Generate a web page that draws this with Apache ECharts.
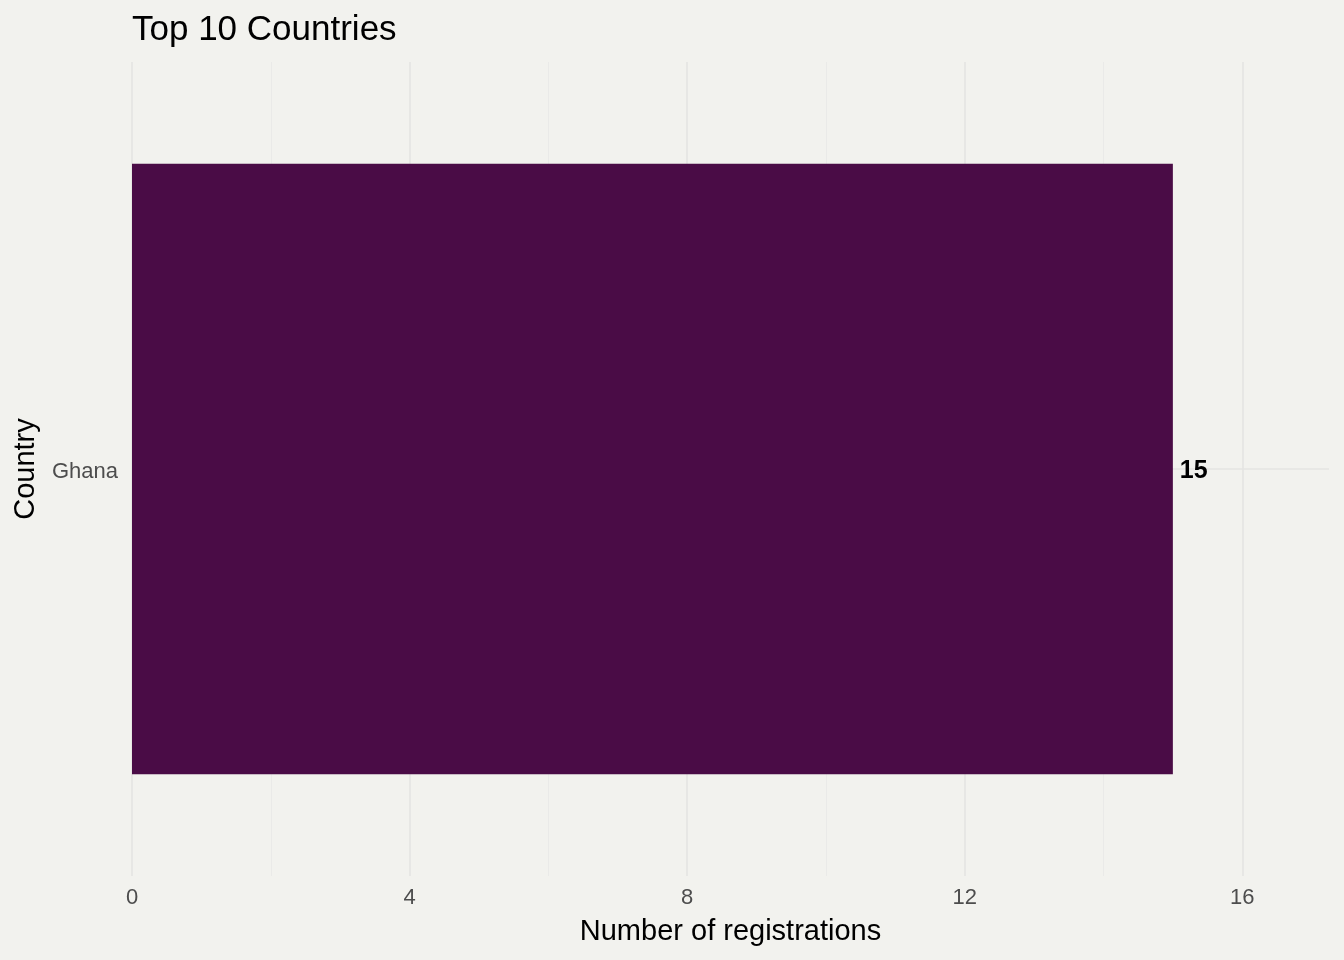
<!DOCTYPE html>
<html><head><meta charset="utf-8">
<script src="https://cdn.jsdelivr.net/npm/echarts@6/dist/echarts.min.js"></script>
<style>html,body{margin:0;padding:0;background:#F2F2EE;}#c{width:1344px;height:960px;}</style>
</head><body><div id="c"></div>
<script>
const categories = ['Ghana'];
const registrations = [15];
const xTicks = [0, 4, 8, 12, 16];

const chart = echarts.init(document.getElementById('c'));
const font = 'Liberation Sans, Arial, sans-serif';
chart.setOption({
  backgroundColor: '#F2F2EE',
  animation: false,
  title: {
    text: 'Top 10 Countries', left: 127, top: 8,
    textStyle: { fontFamily: font, fontSize: 35, fontWeight: 'normal', color: '#000' }
  },
  grid: { left: 132, right: 15, top: 62, bottom: 84 },
  xAxis: [{
    type: 'value', min: 0, max: 17.25, interval: 4,
    name: 'Number of registrations', nameLocation: 'middle', nameGap: 41,
    nameTextStyle: { fontFamily: font, fontSize: 29, color: '#000' },
    axisLine: { show: false }, axisTick: { show: false },
    axisLabel: { fontFamily: font, fontSize: 22, color: '#4D4D4D', margin: 11, showMaxLabel: false,
      formatter: v => xTicks.includes(v) ? String(v) : '' },
    splitLine: { show: true, showMaxLine: false, lineStyle: { color: '#E4E4E2', width: 1.6 } }
  }, {
    type: 'value', min: 0, max: 17.25, interval: 2, position: 'bottom',
    axisLine: { show: false }, axisTick: { show: false }, axisLabel: { show: false },
    splitLine: { show: true, showMaxLine: false, lineStyle: { color: ['rgba(0,0,0,0)', '#E9E9E6'], width: 0.9 } }
  }],
  yAxis: [{
    type: 'category', data: categories,
    name: 'Country', nameLocation: 'middle', nameGap: 92,
    nameTextStyle: { fontFamily: font, fontSize: 29, color: '#000' },
    axisLine: { show: false }, axisTick: { show: false },
    axisLabel: { fontFamily: font, fontSize: 22, color: '#4D4D4D', margin: 14,
      formatter: v => '{a|' + v + '}',
      rich: { a: { fontFamily: font, fontSize: 22, color: '#4D4D4D', padding: [5, 0, 0, 0] } } },
    splitLine: { show: false }
  }, {
    type: 'value', min: 0.4, max: 1.6, interval: 0.6, show: true,
    axisLine: { show: false }, axisTick: { show: false }, axisLabel: { show: false },
    splitLine: { show: true, showMinLine: false, showMaxLine: false, lineStyle: { color: '#E4E4E2', width: 1.6 } }
  }],
  series: [{
    type: 'bar', data: registrations, xAxisIndex: 0, yAxisIndex: 0,
    barWidth: '75%',
    itemStyle: { color: '#4A0C46' },
    label: { show: true, position: 'right', distance: 7, offset: [0, 2],
      fontFamily: font, fontSize: 25, fontWeight: 'bold', color: '#000' }
  }]
});
</script></body></html>
